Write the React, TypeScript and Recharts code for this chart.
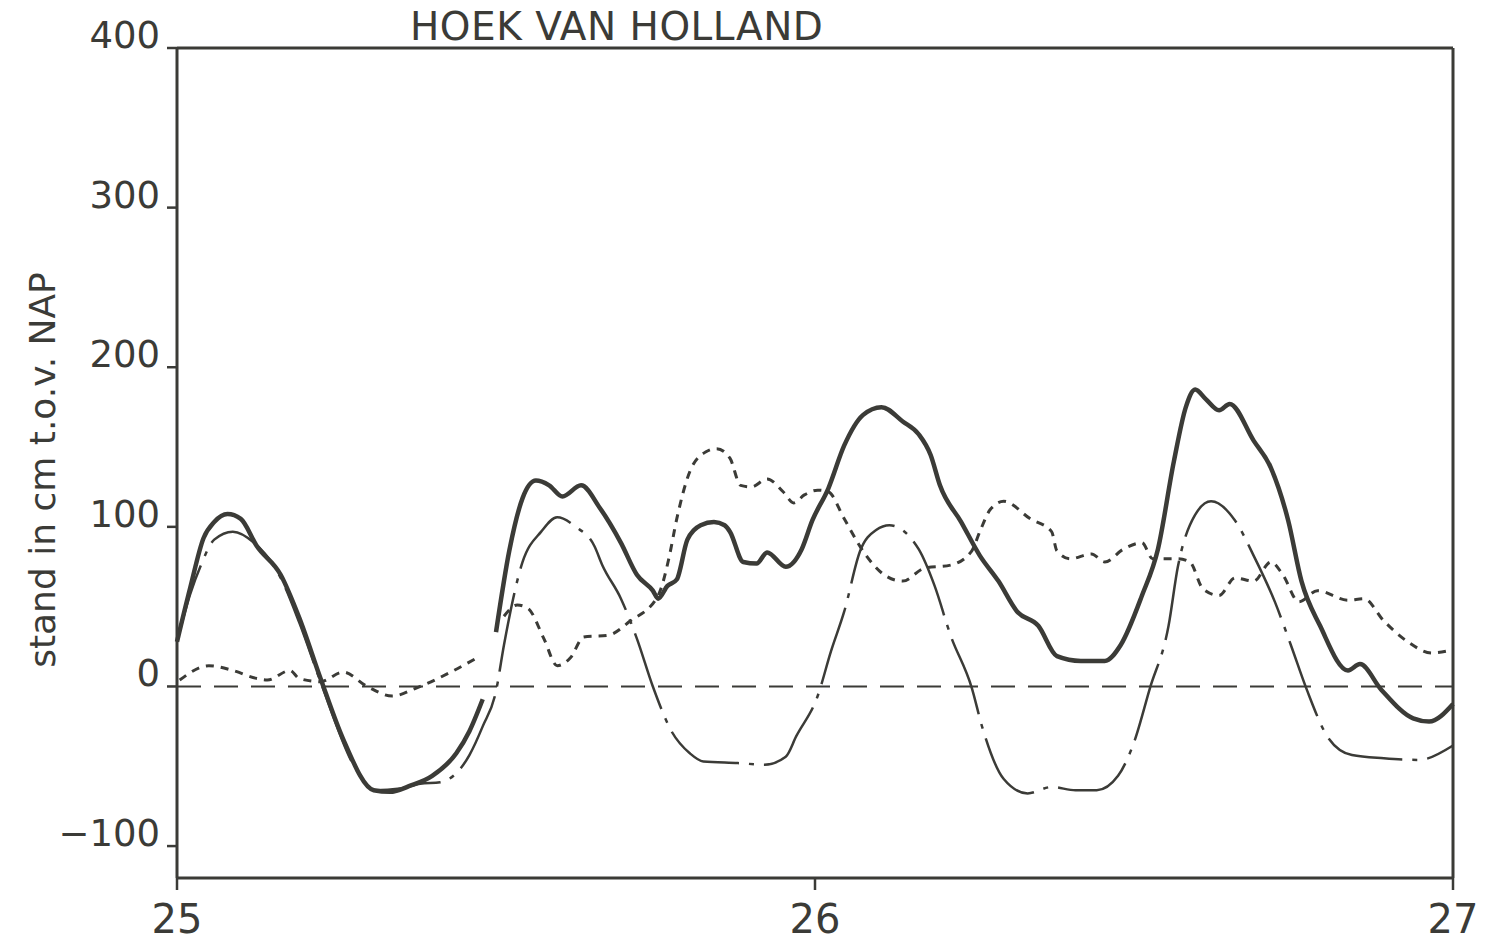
import React from 'react';
import { LineChart, Line, XAxis, YAxis, ReferenceLine } from 'recharts';

// time in hours from the 25th, water level in cm relative to NAP
const observedHours = [
  0, 0.5, 1, 1.4, 1.9, 2.4, 3, 3.9, 4.6, 5.4, 6.25, 7.4, 8, 8.8, 9.6, 10.5, 11, 11.5, 11.75,
  12, 12.5, 13, 13.5, 14, 14.5, 15.2, 15.9, 16.7, 17.3, 17.9, 18.1, 18.45, 18.8, 19.2, 19.7,
  20.2, 20.6, 20.8, 21.3, 21.8, 22.2, 22.9, 23.5, 23.9, 24.5, 25.1, 25.8, 26.5, 27.3, 27.9,
  28.35, 28.7, 29.5, 30.2, 30.9, 31.6, 32.4, 33.1, 34, 34.9, 35.5, 36.3, 36.9, 37.5, 37.95,
  38.3, 38.7, 39.2, 39.6, 40.5, 41.15, 41.8, 42.3, 43, 44.05, 44.5, 45.3, 46.5, 47.1, 48,
];
const observedLevels = [
  28, 62, 93, 103, 108, 105, 88, 70, 43, 5, -33, -65, -66, -62, -56, -42, -28, -8, null,
  34, 85, 118, 129, 126, 119, 126, 112, 90, 70, 60, 55, 63, 67, 92, 101,
  103, 101, 97, 78, 77, 84, 75, 86, 104, 124, 151, 170, 175, 166, 158,
  145, 126, 103, 82, 66, 47, 38, 19, 16, 16, 26, 57, 86, 141, 175,
  186, 180, 173, 177, 154, 137, 104, 66, 38, 10, 14, -2, -20, -22, -11,
];

const tideHours = [
  0, 0.5, 0.9, 1.4, 2.1, 2.9, 3.9, 4.6, 5.4, 6.7, 7.45, 8.4, 9.15, 9.9, 11, 11.5, 12, 12.3,
  13, 13.7, 14.3, 15, 15.7, 16, 16.7, 17.3, 17.9, 18.6, 19.3, 19.8, 21.1, 22.1, 22.9, 23.3,
  24.1, 24.6, 25.1, 25.7, 26.3, 26.8, 27.9, 28.5, 29.1, 29.9, 30.3, 31.1, 32, 32.9, 33.8,
  34.6, 35.4, 36, 36.6, 37.3, 37.65, 38.1, 38.9, 39.8, 40.5, 41.3, 41.9, 42.5, 43.3, 44.2,
  45.4, 46.7, 48,
];
const tideLevels = [
  28, 58, 76, 92, 97, 90, 68, 40, 3, -51, -65, -64, -61, -60, -43, -25, -3, 26,
  78, 97, 106, 100, 88, 76, 55, 30, 0, -28, -42, -47, -48, -49, -44, -31,
  -6, 22, 47, 85, 98, 101, 86, 63, 32, -1, -26, -58, -67, -63, -65,
  -65, -56, -35, -1, 38, 75, 101, 116, 104, 82, 53, 26, -2, -32, -43,
  -45, -46, -37,
];

const surgeHours = [
  0.1, 1.2, 2.1, 3, 3.4, 4.25, 4.6, 5.4, 6.25, 7.15, 8.1, 9, 10.3, 11.4, 11.8, 12.3, 12.8,
  13.2, 13.8, 14.3, 14.8, 15.3, 16.2, 17.05, 18.1, 18.5, 18.8, 19.3, 19.9, 20.3, 20.8, 21.2,
  21.6, 22.2, 22.8, 23.2, 23.6, 24.1, 24.5, 25.1, 25.8, 26.6, 27.3, 28.1, 29.1, 29.9, 30.2,
  30.6, 31.1, 32.1, 32.9, 33.1, 33.6, 34.4, 34.9, 35.6, 36.3, 36.7, 37.65, 38.1, 38.6, 39.2,
  39.8, 40.5, 41.15, 41.6, 42.2, 42.9, 44.05, 44.65, 45.4, 46.3, 47.2, 48,
];
const surgeLevels = [
  4, 13, 10, 5, 4, 10, 5, 3, 9, 0, -6, -1, 9, 19, null, 44, 51,
  49, 30, 13, 18, 31, 32, 41, 57, 80, 105, 135, 147, 149, 143, 126,
  125, 130, 122, 115, 120, 123, 122, 105, 85, 70, 66, 74, 76, 85, 97,
  111, 116, 105, 97, 85, 80, 83, 78, 86, 90, 80, 80, 78, 61, 57,
  68, 66, 78, 70, 53, 60, 54, 55, 41, 28, 21, 23,
];

const levelTicks = [-100, 0, 100, 200, 300, 400];
const timeTicks = [0, 24, 48];
const dayLabels = ['25', '26', '27'];

const ink = '#3b3b37';
const font = '"DejaVu Sans", sans-serif';

const toRows = (hours: number[], levels: (number | null)[]) =>
  hours.map((h, i) => ({ h, v: levels[i] }));

const observed = toRows(observedHours, observedLevels);
const tide = toRows(tideHours, tideLevels);
const surge = toRows(surgeHours, surgeLevels);

const LevelTick = (props: any) => {
  const { x, y, payload } = props;
  const label = payload.value < 0 ? `\u2212${Math.abs(payload.value)}` : `${payload.value}`;
  return (
    <text x={x - 3} y={y} textAnchor="end" fill={ink} fontSize={37} fontFamily={font}>
      {label}
    </text>
  );
};

const DayTick = (props: any) => {
  const { x, y, payload } = props;
  const idx = timeTicks.indexOf(payload.value);
  return (
    <text x={x} y={y + 41} textAnchor="middle" fill={ink} fontSize={40} fontFamily={font}>
      {dayLabels[idx]}
    </text>
  );
};

export default function App() {
  return (
    <div style={{ position: 'relative', width: 1470, height: 937 }}>
      <div
        style={{
          position: 'absolute',
          left: 402,
          top: -4,
          fontFamily: font,
          fontSize: 39,
          color: ink,
          letterSpacing: 0.5,
        }}
      >
        HOEK VAN HOLLAND
      </div>
      <div
        style={{
          position: 'absolute',
          left: 34,
          top: 462,
          transform: 'translate(-50%, -50%) rotate(-90deg)',
          fontFamily: font,
          fontSize: 36,
          color: ink,
          whiteSpace: 'nowrap',
        }}
      >
        stand in cm t.o.v. NAP
      </div>
      <LineChart
        width={1470}
        height={937}
        margin={{ top: 40, right: 25, bottom: 15, left: 89 }}
        style={{ position: 'absolute', left: 0, top: 0 }}
      >
        <XAxis
          type="number"
          dataKey="h"
          domain={[0, 48]}
          ticks={timeTicks}
          tick={<DayTick />}
          tickSize={12}
          height={52}
          axisLine={{ stroke: ink, strokeWidth: 3 }}
          tickLine={{ stroke: ink, strokeWidth: 2.5 }}
          allowDuplicatedCategory={false}
        />
        <YAxis
          type="number"
          domain={[-120, 400]}
          ticks={levelTicks}
          tick={<LevelTick />}
          tickSize={10}
          tickMargin={4}
          width={80}
          axisLine={{ stroke: ink, strokeWidth: 3 }}
          tickLine={{ stroke: ink, strokeWidth: 2.5 }}
        />
        {/* top and right border of the frame */}
        <ReferenceLine y={400} stroke={ink} strokeWidth={3} />
        <ReferenceLine x={48} stroke={ink} strokeWidth={3} />
        <ReferenceLine y={0} stroke={ink} strokeWidth={2} strokeDasharray="24 13" />
        <Line
          data={surge}
          dataKey="v"
          type="monotone"
          stroke={ink}
          strokeWidth={3}
          strokeDasharray="8 7"
          dot={false}
          isAnimationActive={false}
        />
        <Line
          data={tide}
          dataKey="v"
          type="monotone"
          stroke={ink}
          strokeWidth={2.5}
          strokeDasharray="80 10 5 10"
          dot={false}
          isAnimationActive={false}
        />
        <Line
          data={observed}
          dataKey="v"
          type="monotone"
          stroke={ink}
          strokeWidth={4.5}
          dot={false}
          isAnimationActive={false}
        />
      </LineChart>
    </div>
  );
}
